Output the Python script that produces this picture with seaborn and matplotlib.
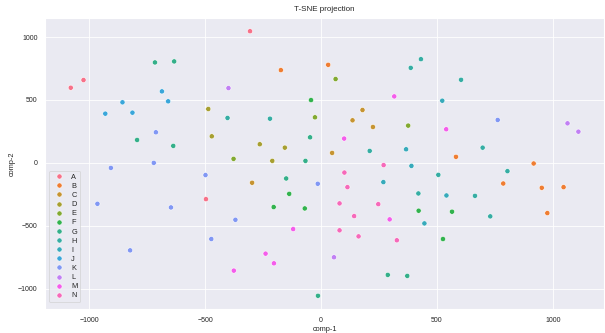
import matplotlib
matplotlib.use("Agg")
import matplotlib.pyplot as plt
import pandas as pd
import seaborn as sns

categories = list("ABCDEFGHIJKLMN")

labels = (
    ["A"] * 4 + ["B"] * 8 + ["C"] * 5 + ["D"] * 5 + ["E"] * 4 + ["F"] * 7
    + ["G"] * 10 + ["H"] * 12 + ["I"] * 6 + ["J"] * 5 + ["K"] * 11
    + ["L"] * 4 + ["M"] * 8 + ["N"] * 9
)

comp1 = [
    -306, -1079, -1024, -496,
    -173, 31, 582, 917, 786, 952, 1046, 976,
    179, 136, 224, 48, -297,
    -486, -471, -264, -156, -210,
    -26, -377, 63, 376,
    -43, -137, -204, -70, 421, 565, 526,
    -716, -633, -793, -637, -47, -67, -150, -13, 288, 372,
    -403, -220, 387, 431, 604, 210, 697, 506, 804, 420, 664, 730,
    523, 390, 367, 269, 541, 446,
    -686, -856, -659, -930, -813,
    -712, -906, -721, -498, 762, -14, -964, -647, -369, -473, -823,
    -399, 1063, 1110, 56,
    316, 540, 100, 296, -120, -239, -203, -376,
    270, 101, 114, 80, 247, 143, 80, 162, 327,
]

comp2 = [
    1046, 597, 658, -288,
    737, 779, 48, -5, -164, -198, -193, -399,
    420, 338, 285, 79, -158,
    428, 211, 148, 121, 16,
    362, 32, 666, 296,
    499, -246, -351, -362, -380, -388, -605,
    798, 806, 182, 135, 203, 16, -124, -1056, -890, -898,
    357, 351, 755, 824, 660, 95, 121, -95, -66, -243, -262, -425,
    494, -24, 108, -153, -259, -481,
    568, 481, 489, 391, 399,
    243, -40, 0, -97, 341, -166, -325, -354, -452, -605, -695,
    594, 314, 248, -750,
    528, 267, 193, -449, -526, -721, -798, -856,
    -18, -77, -193, -322, -328, -423, -536, -584, -615,
]

df = pd.DataFrame({"comp-1": comp1, "comp-2": comp2, "y": labels})

sns.set_style("darkgrid")
plt.rcParams["font.family"] = ["Liberation Sans", "DejaVu Sans"]

fig, ax = plt.subplots(figsize=(6.05, 3.33), dpi=100)
fig.subplots_adjust(left=0.075, right=0.998, top=0.946, bottom=0.072)

sns.scatterplot(
    data=df,
    x="comp-1",
    y="comp-2",
    hue="y",
    hue_order=categories,
    palette=sns.color_palette("husl", len(categories)),
    s=14,
    linewidth=0.4,
    ax=ax,
)

ax.set_title("T-SNE projection", fontsize=5.8, pad=5)
ax.set_xlabel("comp-1", fontsize=5.3, labelpad=2)
ax.set_ylabel("comp-2", fontsize=5.3, labelpad=2)
ax.tick_params(axis="both", labelsize=5, pad=2)
ax.xaxis.grid(True, linewidth=0.6)
ax.yaxis.grid(True, linewidth=0.6)

leg = ax.legend(loc="lower left", fontsize=5.3, labelspacing=0.27,
                markerscale=1.0, handletextpad=0.6, borderpad=0.4,
                bbox_to_anchor=(0.0, 0.01))
leg.get_frame().set_linewidth(0.5)

plt.savefig("out.png", dpi=100)
plt.close()
